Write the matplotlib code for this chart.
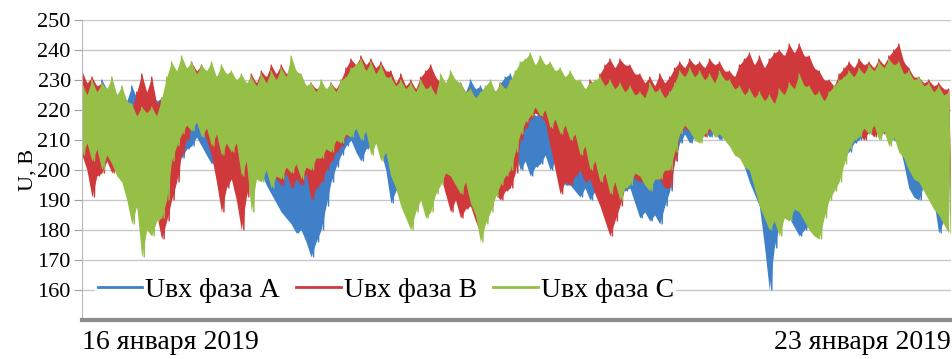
import numpy as np
import matplotlib
matplotlib.use('Agg')
import matplotlib.pyplot as plt

plt.rcParams['font.family'] = ['Liberation Serif', 'DejaVu Serif']

# upper / lower envelope of each phase voltage, 16-23 Jan 2019, 175 readings each
ua_hi = [230, 227, 229, 226, 230, 227, 228, 225, 226, 223,
         228, 224, 225, 222, 226, 223, 224, 221, 222, 220,
         226, 228, 230, 228, 231, 228, 230, 227, 229, 226,
         228, 225, 229, 226, 228, 225, 229, 226, 228, 225,
         227, 224, 226, 223, 226, 223, 224, 221, 225, 222,
         226, 223, 228, 227, 230, 228, 231, 228, 230, 227,
         231, 228, 229, 226, 228, 225, 229, 226, 228, 225,
         227, 224, 228, 225, 230, 227, 229, 226, 230, 227,
         228, 225, 227, 224, 229, 231, 232, 228, 226, 223,
         221, 218, 219, 216, 218, 215, 222, 219, 225, 222,
         226, 223, 226, 223, 228, 225, 229, 226, 228, 225,
         227, 224, 226, 223, 225, 222, 224, 221, 225, 222,
         221, 218, 220, 217, 221, 218, 225, 222, 226, 223,
         227, 224, 226, 223, 225, 222, 223, 220, 220, 217,
         222, 219, 223, 220, 222, 219, 224, 221, 225, 222,
         226, 223, 227, 224, 220, 217, 218, 215, 219, 216,
         220, 217, 221, 218, 218, 215, 217, 214, 219, 216,
         218, 215, 217, 214, 218]
ua_lo = [205, 208, 200, 204, 202, 206, 203, 199, 200, 197,
         196, 193, 190, 187, 185, 188, 190, 197, 203, 206,
         204, 207, 208, 211, 208, 205, 202, 205, 201, 204,
         203, 206, 200, 203, 196, 200, 199, 195, 192, 189,
         186, 184, 182, 179, 180, 176, 171, 176, 180, 188,
         196, 201, 205, 208, 210, 206, 203, 207, 208, 211,
         206, 200, 189, 193, 195, 198, 200, 203, 198, 201,
         197, 200, 199, 202, 198, 201, 195, 199, 196, 192,
         186, 188, 190, 194, 197, 200, 203, 206, 200, 203,
         198, 201, 202, 205, 200, 203, 199, 195, 195, 193,
         191, 194, 190, 193, 195, 198, 194, 197, 196, 193,
         194, 189, 184, 186, 183, 185, 182, 188, 193, 203,
         209, 212, 209, 211, 210, 213, 211, 213, 210, 212,
         208, 210, 206, 201, 196, 192, 188, 175, 160, 174,
         182, 185, 184, 181, 178, 180, 182, 185, 186, 190,
         195, 199, 202, 205, 206, 209, 210, 213, 212, 214,
         211, 213, 212, 210, 209, 202, 194, 191, 190, 195,
         200, 190, 179, 183, 185]

ub_hi = [233, 229, 231, 228, 229, 226, 227, 224, 224, 221,
         220, 226, 232, 226, 231, 222, 224, 220, 218, 220,
         222, 230, 236, 233, 235, 232, 234, 231, 233, 230,
         232, 229, 230, 228, 232, 229, 233, 231, 235, 232,
         235, 232, 234, 231, 231, 228, 229, 227, 228, 226,
         229, 227, 230, 234, 237, 235, 238, 235, 237, 234,
         236, 233, 233, 229, 232, 228, 230, 227, 231, 233,
         235, 231, 229, 226, 228, 225, 229, 226, 227, 224,
         225, 227, 228, 226, 229, 227, 230, 231, 232, 230,
         233, 231, 234, 232, 233, 230, 232, 229, 230, 228,
         229, 226, 230, 228, 232, 235, 237, 234, 237, 235,
         235, 232, 232, 229, 231, 228, 232, 229, 231, 234,
         236, 234, 237, 235, 236, 234, 237, 235, 236, 233,
         233, 231, 235, 237, 239, 235, 238, 234, 237, 239,
         240, 238, 242, 239, 242, 238, 238, 234, 233, 230,
         230, 228, 232, 234, 236, 234, 237, 235, 236, 234,
         237, 235, 238, 240, 242, 236, 234, 231, 231, 229,
         230, 228, 229, 227, 227]
ub_lo = [205, 200, 191, 198, 199, 203, 199, 202, 198, 201,
         195, 188, 180, 186, 182, 185, 177, 183, 190, 196,
         205, 210, 214, 217, 214, 210, 205, 196, 186, 194,
         197, 190, 180, 191, 198, 202, 205, 202, 200, 197,
         195, 199, 194, 197, 195, 199, 190, 194, 196, 200,
         203, 206, 208, 211, 213, 216, 212, 215, 210, 213,
         209, 211, 206, 203, 200, 197, 195, 199, 198, 201,
         197, 199, 198, 192, 186, 190, 184, 187, 188, 183,
         179, 184, 188, 192, 190, 193, 194, 199, 210, 214,
         217, 219, 218, 216, 208, 200, 192, 196, 195, 198,
         200, 196, 197, 192, 188, 183, 178, 183, 188, 194,
         200, 197, 196, 199, 194, 197, 197, 194, 194, 203,
         212, 214, 213, 215, 214, 211, 213, 215, 212, 214,
         210, 207, 205, 202, 202, 199, 199, 202, 205, 208,
         212, 214, 216, 218, 218, 216, 215, 213, 214, 206,
         200, 205, 210, 208, 210, 212, 212, 210, 213, 211,
         214, 212, 213, 215, 212, 208, 203, 206, 198, 201,
         200, 195, 192, 189, 186]

uc_hi = [229, 225, 230, 226, 229, 227, 231, 225, 228, 223,
         222, 218, 221, 219, 221, 218, 224, 231, 236, 233,
         238, 234, 236, 232, 235, 233, 236, 231, 235, 232,
         233, 230, 232, 229, 231, 228, 232, 229, 233, 230,
         234, 231, 238, 233, 232, 228, 229, 226, 230, 227,
         229, 226, 230, 231, 234, 235, 237, 233, 236, 232,
         235, 231, 231, 228, 230, 227, 229, 226, 230, 227,
         228, 225, 232, 229, 233, 230, 229, 226, 227, 224,
         226, 228, 230, 226, 229, 227, 230, 233, 236, 237,
         239, 235, 238, 235, 236, 233, 234, 231, 233, 230,
         230, 227, 229, 230, 231, 228, 230, 227, 229, 226,
         228, 225, 226, 224, 229, 226, 227, 224, 226, 229,
         233, 231, 234, 231, 233, 230, 232, 229, 233, 230,
         230, 227, 228, 225, 227, 224, 226, 223, 225, 222,
         227, 225, 229, 227, 232, 228, 228, 225, 226, 223,
         226, 228, 230, 231, 233, 231, 234, 232, 235, 233,
         236, 234, 237, 235, 236, 232, 233, 230, 231, 228,
         229, 226, 228, 225, 226]
uc_lo = [205, 209, 203, 207, 200, 205, 202, 198, 196, 190,
         182, 188, 171, 180, 178, 183, 184, 190, 203, 208,
         212, 215, 213, 216, 211, 214, 208, 212, 205, 209,
         206, 209, 198, 203, 186, 197, 196, 200, 194, 198,
         197, 201, 199, 202, 197, 201, 200, 204, 204, 207,
         206, 210, 209, 212, 211, 214, 210, 213, 205, 209,
         203, 206, 198, 194, 188, 184, 180, 186, 190, 184,
         186, 192, 195, 199, 198, 195, 192, 196, 189, 185,
         176, 182, 186, 191, 195, 198, 200, 206, 212, 216,
         218, 221, 218, 220, 214, 217, 212, 215, 210, 212,
         205, 208, 200, 203, 196, 199, 192, 196, 190, 194,
         195, 199, 198, 195, 193, 197, 197, 200, 200, 206,
         212, 215, 213, 210, 209, 212, 214, 211, 212, 210,
         208, 205, 204, 201, 200, 194, 188, 184, 180, 183,
         178, 184, 183, 187, 186, 183, 180, 178, 177, 184,
         190, 193, 196, 202, 207, 210, 211, 214, 212, 215,
         210, 213, 208, 211, 206, 204, 200, 197, 196, 193,
         190, 187, 185, 182, 179]

labels = ['Uвх фаза А', 'Uвх фаза В', 'Uвх фаза С']
colors = ['#3f80c9', '#d0393c', '#95bf47']
date_labels = ['16 января 2019', '23 января 2019']

n = len(uc_hi)
step = 168.0 / (n - 1)   # hours between readings
t = np.arange(n) * step
t_zig = np.column_stack([t, t + step / 2]).ravel()

fig = plt.figure(figsize=(9.53, 3.59), dpi=100)
ax = fig.add_axes([0.086, 0.109, 0.912, 0.835])

for hi, lo, lab, col in zip([ua_hi, ub_hi, uc_hi], [ua_lo, ub_lo, uc_lo], labels, colors):
    hi = np.array(hi, dtype=float)
    lo = np.array(lo, dtype=float)
    ax.fill_between(t, lo, hi, color=col, lw=0, zorder=2)
    zig = np.column_stack([hi, lo]).ravel()
    ax.plot(t_zig, zig, color=col, lw=1.0, label=lab, zorder=2)

ax.set_ylim(150, 250)
ax.set_xlim(0, t_zig[-1])
ax.set_yticks(np.arange(160, 251, 10))
ax.yaxis.grid(True, color='#c8c8c8', lw=1)
ax.set_axisbelow(True)
ax.tick_params(axis='y', labelsize=16, length=6, color='#a0a0a0', pad=2)

ax.set_xticks([0, t_zig[-1]])
ax.set_xticklabels(date_labels, fontsize=20)
ax.tick_params(axis='x', length=0, pad=7)
xl = ax.get_xticklabels()
xl[0].set_ha('left')
xl[1].set_ha('right')

ax.set_ylabel('U, В', fontsize=16, labelpad=0)

for s in ['top', 'right']:
    ax.spines[s].set_visible(False)
ax.spines['left'].set_color('#b8b8b8')
ax.spines['bottom'].set_color('#8c8c8c')
ax.spines['bottom'].set_linewidth(3)

leg = ax.legend(loc='center left', bbox_to_anchor=(0.015, 0.1), ncol=3, fontsize=20,
                frameon=True, facecolor='white', edgecolor='none', framealpha=1,
                handlelength=1.6, handletextpad=0.1, columnspacing=0.6,
                borderpad=0.1, borderaxespad=0)
for line in leg.get_lines():
    line.set_linewidth(2)

fig.savefig('out.png', dpi=100)
